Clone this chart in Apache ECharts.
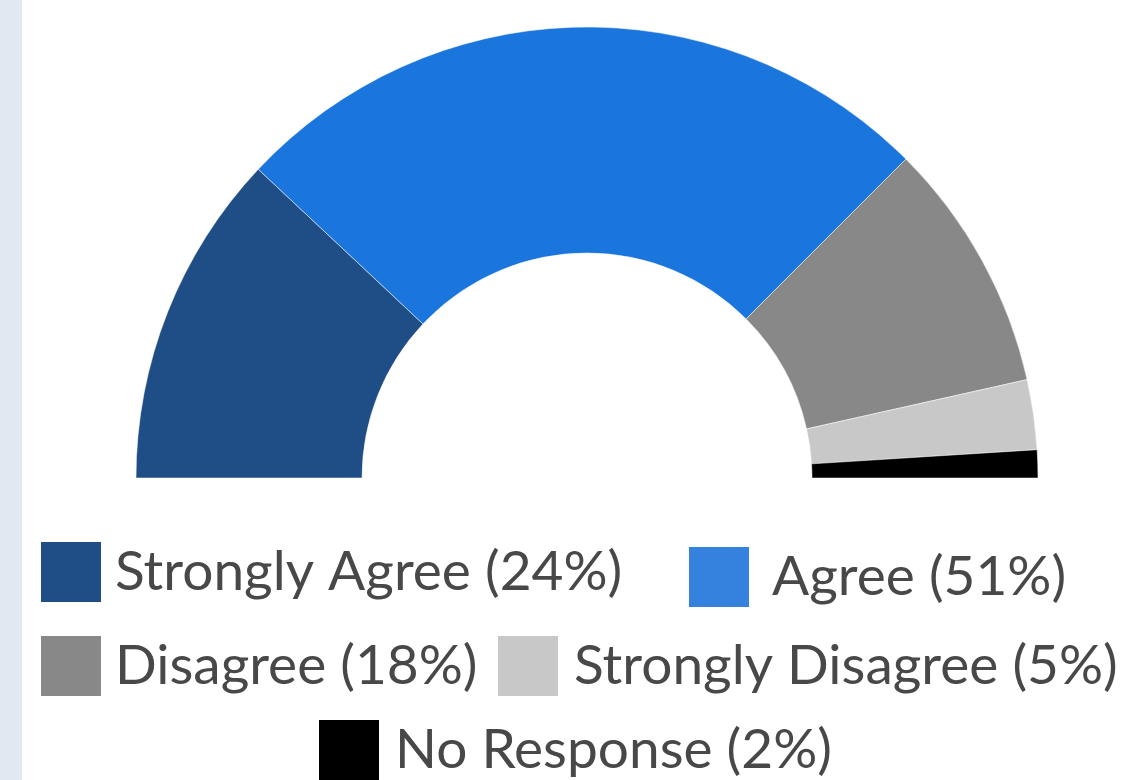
<!DOCTYPE html>
<html>
<head>
<meta charset="utf-8">
<script src="https://cdn.jsdelivr.net/npm/echarts@6/dist/echarts.min.js"></script>
<style>
html,body{margin:0;padding:0;background:#fff;}
#strip{position:absolute;left:0;top:0;width:22px;height:780px;background:#e2e8f2;}
#chart{position:absolute;left:0;top:0;width:1122px;height:780px;}
</style>
</head>
<body>
<div id="strip"></div>
<div id="chart"></div>
<script>
const categories = ['Strongly Agree', 'Agree', 'Disagree', 'Strongly Disagree', 'No Response'];
const values = [24, 51, 18, 5, 2];
const sliceColors = ['#1f4e87', '#1a75dd', '#888888', '#c8c8c8', '#000000'];
const legendColors = ['#1f4e87', '#3482de', '#888888', '#c8c8c8', '#000000'];

const legendPos = [
  {left: 39, top: 540, pad: 8, dy: 6},
  {left: 687, top: 545, pad: 17, dy: 4},
  {left: 39, top: 634, pad: 8, dy: 6},
  {left: 496, top: 634, pad: 10, dy: 6},
  {left: 317, top: 718, pad: 10, dy: 6}
];

const chart = echarts.init(document.getElementById('chart'), null, {renderer: 'canvas'});
const legends = categories.map((c, i) => ({
  data: [{name: c, itemStyle: {color: legendColors[i]}}],
  left: legendPos[i].left,
  top: legendPos[i].top,
  padding: 0,
  itemWidth: 62,
  itemHeight: 62,
  icon: 'rect',
  formatter: name => name + ' (' + values[categories.indexOf(name)] + '%)',
  textStyle: {
    fontFamily: 'Lato',
    fontSize: 55,
    color: '#484848',
    padding: [legendPos[i].dy * 2, 0, 0, legendPos[i].pad]
  }
}));

chart.setOption({
  animation: false,
  legend: legends,
  series: [{
    type: 'pie',
    center: [587, 478],
    radius: [225, 451],
    startAngle: 180,
    endAngle: 0,
    clockwise: true,
    label: {show: false},
    labelLine: {show: false},
    itemStyle: {borderColor: '#ffffff', borderWidth: 0.5},
    data: categories.map((c, i) => ({name: c, value: values[i], itemStyle: {color: sliceColors[i]}}))
  }]
});
</script>
</body>
</html>
